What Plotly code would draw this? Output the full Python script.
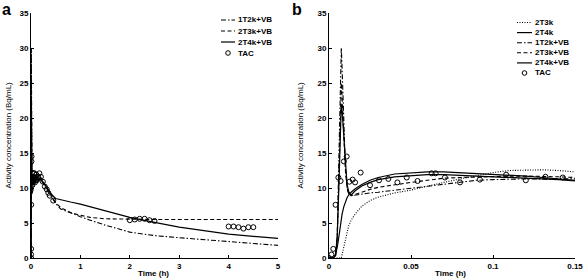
import plotly.graph_objects as go

# ---------- data ----------
# Early time (h) model curves, shown in panel b and at the start of panel a
t_early = [0, 0.003, 0.004, 0.005, 0.006, 0.007, 0.0075, 0.008, 0.009, 0.010, 0.011, 0.012,
           0.0135, 0.016, 0.02, 0.025, 0.03, 0.04, 0.05, 0.06, 0.07, 0.08, 0.09, 0.1, 0.11,
           0.12, 0.13, 0.14, 0.15]
m_2T3k = [0, 0, 0, 0, 0, 0, 0, 0.5, 1.5, 2.6, 3.6, 4.6,
          5.4, 6.3, 7.4, 8.2, 8.7, 9.3, 9.7, 10.3, 10.8, 11.3, 11.8, 12.2, 12.5,
          12.6, 12.6, 12.5, 12.3]
m_2T4k = [0, 0.1, 0.5, 1.5, 3.0, 4.8, 5.6, 6.3, 7.3, 8.0, 8.6, 9.0,
          9.4, 9.9, 10.5, 11.1, 11.5, 12.0, 12.2, 12.3, 12.3, 12.2, 12.1, 12.0, 11.8,
          11.7, 11.5, 11.3, 11.1]
m_1T2k_VB = [0, 0.1, 0.3, 3.0, 14.0, 27.0, 30.0, 27.0, 19.0, 13.0, 10.0, 9.2,
             8.9, 9.0, 9.1, 9.3, 9.4, 9.7, 9.9, 10.3, 10.6, 10.9, 11.1, 11.2, 11.3,
             11.3, 11.3, 11.3, 11.3]
m_2T3k_VB = [0, 0.1, 0.3, 2.5, 11.0, 22.0, 25.0, 23.0, 17.0, 12.5, 10.0, 9.2,
             8.9, 9.1, 9.4, 9.8, 10.1, 10.5, 10.8, 11.1, 11.4, 11.5, 11.6, 11.7, 11.7,
             11.7, 11.7, 11.6, 11.5]
m_2T4k_VB = [0, 0.1, 0.5, 3.0, 10.0, 20.0, 22.0, 21.0, 17.0, 13.0, 10.5, 9.5,
             9.0, 9.6, 10.3, 10.8, 11.2, 11.6, 11.8, 11.9, 11.9, 11.8, 11.8, 11.7, 11.6,
             11.5, 11.3, 11.2, 11.0]

# Later time (h) model curves, panel a only
t_late = [0.2, 0.3, 0.4, 0.5, 0.6, 0.8, 1.0, 1.2, 1.5, 2.0, 2.5, 3.0, 3.5, 4.0, 4.5, 5.0]
l_1T2k_VB = [11.2, 10.0, 8.9, 7.8, 7.0, 6.4, 5.9, 5.4, 4.7, 3.7, 3.2, 2.9, 2.6, 2.3, 2.0, 1.8]
l_2T3k_VB = [11.5, 10.2, 9.0, 7.9, 7.2, 6.5, 6.1, 5.8, 5.6, 5.5, 5.5, 5.5, 5.5, 5.5, 5.5, 5.5]
l_2T4k_VB = [11.3, 10.3, 9.2, 8.5, 8.3, 8.0, 7.7, 7.3, 6.8, 5.8, 5.1, 4.4, 3.9, 3.4, 3.1, 2.8]

# Measured TAC
tac_t_early = [0, 0.0015, 0.0026, 0.004, 0.0057, 0.0071, 0.0091, 0.0108, 0.0124, 0.0144,
               0.0159, 0.0193, 0.025, 0.0305, 0.0362, 0.0417, 0.0474, 0.054, 0.0626, 0.065,
               0.0707, 0.0799, 0.092, 0.108, 0.12, 0.132, 0.1425]
tac_early = [0, 0.5, 1.3, 7.6, 11.5, 11.0, 13.8, 14.5, 10.9, 11.2,
             10.8, 12.2, 10.4, 11.1, 11.3, 10.8, 11.5, 11.0, 12.1, 12.1,
             11.5, 10.8, 11.2, 11.9, 11.1, 11.6, 11.5]
tac_t_late = [0.17, 0.2, 0.24, 0.28, 0.32, 0.35, 0.38, 0.45,
              2.0, 2.1, 2.2, 2.3, 2.4, 2.5, 4.0, 4.1, 4.2, 4.3, 4.4, 4.5]
tac_late = [12.1, 11.6, 10.9, 10.2, 9.8, 9.3, 8.9, 8.2,
            5.4, 5.5, 5.6, 5.6, 5.4, 5.3, 4.5, 4.5, 4.4, 4.2, 4.4, 4.4]

x_ticks_a = [0, 1, 2, 3, 4, 5]
x_ticks_b = [0, 0.05, 0.1, 0.15]
x_ticklabels_b = ["0", "0.05", "0.1", "0.15"]
y_ticks = [0, 5, 10, 15, 20, 25, 30, 35]

legend_a_names = ["1T2k+VB", "2T3k+VB", "2T4k+VB", "TAC"]
legend_b_names = ["2T3k", "2T4k", "1T2k+VB", "2T3k+VB", "2T4k+VB", "TAC"]

# ---------- styles ----------
FONT = "Liberation Sans"
DASHDOT = "5px,2px,1.5px,2px"
DASH = "4px,2.5px"
DOT = "1px,1.5px"
STYLE = {"1T2k+VB": (DASHDOT, 1.1), "2T3k+VB": (DASH, 1.1), "2T4k+VB": ("solid", 1.2),
         "2T3k": (DOT, 1.1), "2T4k": ("solid", 1.2)}

fig = go.Figure()

def line(x, y, name, xa, ya):
    dash, w = STYLE[name]
    fig.add_trace(go.Scatter(x=x, y=y, mode="lines", name=name, showlegend=False,
                             line=dict(color="black", width=w, dash=dash),
                             xaxis=xa, yaxis=ya))

def circles(x, y, xa, ya):
    fig.add_trace(go.Scatter(x=x, y=y, mode="markers", name="TAC", showlegend=False,
                             marker=dict(symbol="circle-open", size=5, color="black",
                                         line=dict(width=1, color="black")),
                             xaxis=xa, yaxis=ya))

# Panel a
line(t_early + t_late, m_1T2k_VB + l_1T2k_VB, "1T2k+VB", "x", "y")
line(t_early + t_late, m_2T3k_VB + l_2T3k_VB, "2T3k+VB", "x", "y")
line(t_early + t_late, m_2T4k_VB + l_2T4k_VB, "2T4k+VB", "x", "y")
circles(tac_t_early + tac_t_late, tac_early + tac_late, "x", "y")

# Panel b
line(t_early, m_2T3k, "2T3k", "x2", "y2")
line(t_early, m_2T4k, "2T4k", "x2", "y2")
line(t_early, m_1T2k_VB, "1T2k+VB", "x2", "y2")
line(t_early, m_2T3k_VB, "2T3k+VB", "x2", "y2")
line(t_early, m_2T4k_VB, "2T4k+VB", "x2", "y2")
circles(tac_t_early, tac_early, "x2", "y2")

W, H = 584, 280
y_dom = [(280 - 258) / H, (280 - 13) / H]
axis_common = dict(showline=True, linecolor="black", linewidth=1, ticks="inside",
                   ticklen=3, tickcolor="black", showgrid=False, zeroline=False,
                   tickfont=dict(family=FONT, size=8, color="black", weight="bold"),
                   ticklabeloverflow="allow", mirror=False)

fig.update_layout(
    width=W, height=H, margin=dict(l=0, r=0, t=0, b=0, autoexpand=False),
    paper_bgcolor="white", plot_bgcolor="white",
    font=dict(family=FONT, size=8, color="black"),
    showlegend=False,
    xaxis=dict(domain=[31 / W, 278 / W], range=[0, 5], tickvals=x_ticks_a,
               anchor="y", **axis_common),
    yaxis=dict(domain=y_dom, range=[0, 35], tickvals=y_ticks, anchor="x", **axis_common),
    xaxis2=dict(domain=[329 / W, 575 / W], range=[0, 0.15], tickvals=x_ticks_b,
                ticktext=x_ticklabels_b, anchor="y2", **axis_common),
    yaxis2=dict(domain=y_dom, range=[0, 35], tickvals=y_ticks, anchor="x2", **axis_common),
)

def px(x):
    return x / W

def py(y):
    return 1 - y / H

# Custom compact legends (paper coordinates)
def draw_legend(names, x0, x1, xt, y0, dy):
    for i, name in enumerate(names):
        yy = y0 + i * dy
        if name == "TAC":
            cx = (x0 + x1) / 2
            fig.add_shape(type="circle", xref="paper", yref="paper",
                          x0=px(cx - 2.3), x1=px(cx + 2.3), y0=py(yy + 2.3), y1=py(yy - 2.3),
                          line=dict(color="black", width=1))
        else:
            dash, w = STYLE[name]
            fig.add_shape(type="line", xref="paper", yref="paper",
                          x0=px(x0), x1=px(x1), y0=py(yy), y1=py(yy),
                          line=dict(color="black", width=w, dash=dash))
        fig.add_annotation(text=name, xref="paper", yref="paper", x=px(xt), y=py(yy),
                           xanchor="left", yanchor="middle", showarrow=False,
                           font=dict(family=FONT, size=8, color="black", weight="bold"))

draw_legend(legend_a_names, 221, 235, 236, 20, 11)
draw_legend(legend_b_names, 517, 532, 533, 22.5, 10.1)

annots = [
    dict(text="<b>a</b>", x=0, y=py(9), xanchor="left", yanchor="middle",
         font=dict(size=16)),
    dict(text="<b>b</b>", x=px(290), y=py(9), xanchor="left", yanchor="middle",
         font=dict(size=16)),
    dict(text="Activity concentration (Bq/mL)", textangle=-90, x=px(8),
         y=py(135.5), xanchor="center", yanchor="middle", font=dict(size=8)),
    dict(text="Activity concentration (Bq/mL)", textangle=-90, x=px(300),
         y=py(135.5), xanchor="center", yanchor="middle", font=dict(size=8)),
    dict(text="<b>Time (h)</b>", x=px(153), y=py(273), xanchor="center",
         yanchor="middle", font=dict(size=8)),
    dict(text="<b>Time (h)</b>", x=px(450), y=py(273), xanchor="center",
         yanchor="middle", font=dict(size=8)),
]
for a in annots:
    a.update(xref="paper", yref="paper", showarrow=False)
    a["font"] = dict(family=FONT, color="black", **a["font"])
    fig.add_annotation(**a)

fig.write_html("out.html", config={"displayModeBar": False},
               post_script="document.body.style.margin='0';document.body.style.padding='0';")
